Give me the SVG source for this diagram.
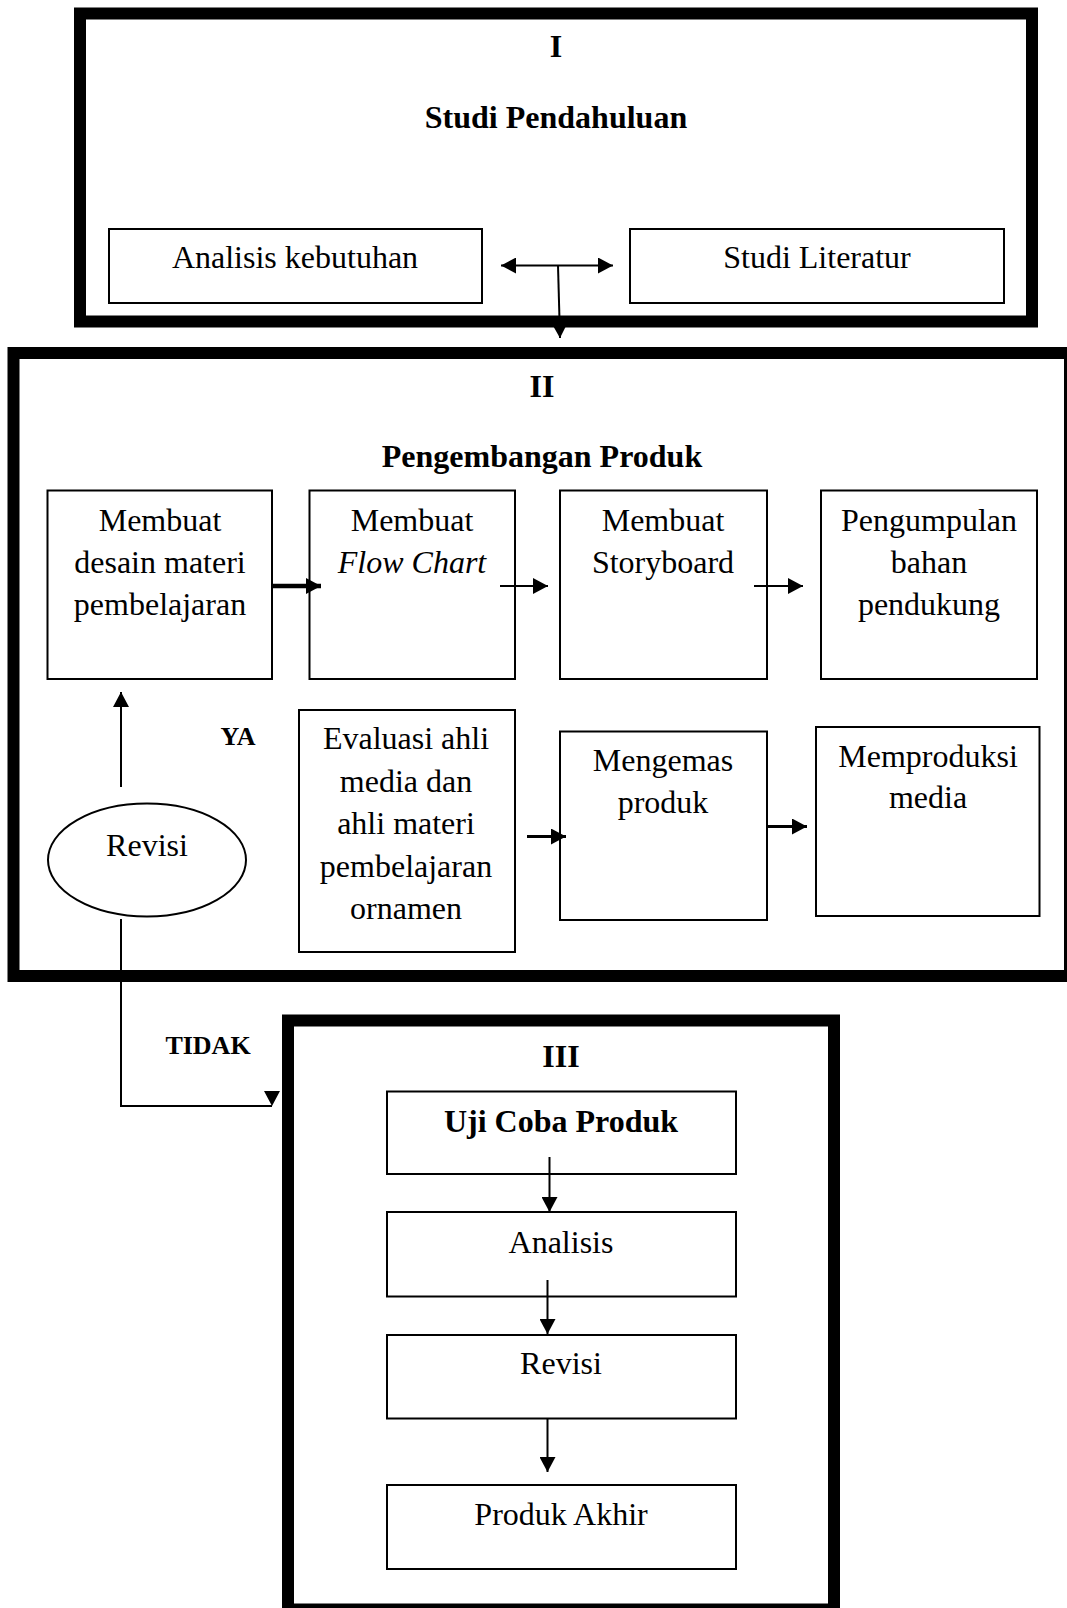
<svg xmlns="http://www.w3.org/2000/svg" width="1067" height="1608" viewBox="0 0 1067 1608">
<style>
text{font-family:"Liberation Serif","Times New Roman",serif;font-size:32px;fill:#000;text-anchor:middle}
.b{font-weight:bold}
.s{font-size:26px;font-weight:bold}
.i{font-style:italic}
.frame{fill:none;stroke:#000;stroke-width:12}
.box{fill:#fff;stroke:#000;stroke-width:2}
.ln{fill:none;stroke:#000;stroke-width:2}
.mid{fill:none;stroke:#000;stroke-width:3}
.thick{fill:none;stroke:#000;stroke-width:4.5}
</style>
<defs>
<marker id="ah" viewBox="0 0 15 16" refX="15" refY="8" markerWidth="15" markerHeight="16" orient="auto-start-reverse" markerUnits="userSpaceOnUse"><path d="M0,0 L15,8 L0,16 z" fill="#000"/></marker>
<marker id="ahDown" viewBox="0 0 15 16" refX="15" refY="8" markerWidth="15" markerHeight="16" orient="90" markerUnits="userSpaceOnUse"><path d="M0,0 L15,8 L0,16 z" fill="#000"/></marker>
</defs>

<g id="frame-I">
<rect class="frame" x="80" y="13.5" width="952" height="308"/>
<text class="b" x="556" y="57">I</text>
<text class="b" x="556" y="128">Studi Pendahuluan</text>
</g>
<g id="frame-II">
<rect class="frame" x="13.5" y="353" width="1056.5" height="623"/>
<text class="b" x="542" y="397">II</text>
<text class="b" x="542" y="467">Pengembangan Produk</text>
</g>
<g id="frame-III">
<rect class="frame" x="288" y="1020.5" width="546" height="589"/>
<text class="b" x="561" y="1067">III</text>
</g>

<g id="analisis-kebutuhan"><rect class="box" x="109" y="229" width="373" height="74"/><text x="295" y="268">Analisis kebutuhan</text></g>
<g id="studi-literatur"><rect class="box" x="630" y="229" width="374" height="74"/><text x="817" y="268">Studi Literatur</text></g>

<g id="desain-materi"><rect class="box" x="47.5" y="490.5" width="224.5" height="188.5"/>
<text x="160" y="531">Membuat</text><text x="160" y="573">desain materi</text><text x="160" y="615">pembelajaran</text></g>
<g id="flow-chart"><rect class="box" x="309.5" y="490.5" width="205.5" height="188.5"/>
<text x="412" y="531">Membuat</text><text class="i" x="412" y="573">Flow Chart</text></g>
<g id="storyboard"><rect class="box" x="560" y="490.5" width="207" height="188.5"/>
<text x="663" y="531">Membuat</text><text x="663" y="573">Storyboard</text></g>
<g id="pengumpulan"><rect class="box" x="821" y="490.5" width="216" height="188.5"/>
<text x="929" y="531">Pengumpulan</text><text x="929" y="573">bahan</text><text x="929" y="615">pendukung</text></g>

<g id="revisi-decision"><ellipse class="box" cx="147" cy="860" rx="99" ry="56.5"/><text x="147" y="856">Revisi</text></g>
<g id="evaluasi"><rect class="box" x="299" y="710" width="216" height="242"/>
<text x="406" y="749">Evaluasi ahli</text><text x="406" y="791.5">media dan</text><text x="406" y="834">ahli materi</text><text x="406" y="876.5">pembelajaran</text><text x="406" y="919">ornamen</text></g>
<g id="mengemas"><rect class="box" x="560" y="731.5" width="207" height="188.5"/>
<text x="663" y="771">Mengemas</text><text x="663" y="813">produk</text></g>
<g id="memproduksi"><rect class="box" x="816" y="727" width="223.5" height="189"/>
<text x="928" y="767">Memproduksi</text><text x="928" y="808">media</text></g>

<g id="uji-coba"><rect class="box" x="387" y="1091.5" width="349" height="82.5"/><text class="b" x="561" y="1132">Uji Coba Produk</text></g>
<g id="analisis"><rect class="box" x="387" y="1212" width="349" height="84.5"/><text x="561" y="1253">Analisis</text></g>
<g id="revisi"><rect class="box" x="387" y="1335" width="349" height="83.5"/><text x="561" y="1374">Revisi</text></g>
<g id="produk-akhir"><rect class="box" x="387" y="1485" width="349" height="84"/><text x="561" y="1525">Produk Akhir</text></g>

<g id="connectors">
<line class="ln" x1="501" y1="265.5" x2="613" y2="265.5" marker-start="url(#ah)" marker-end="url(#ah)"/>
<line class="ln" x1="558" y1="265.5" x2="560" y2="338" marker-end="url(#ah)"/>
<line class="thick" x1="272" y1="586" x2="321" y2="586" marker-end="url(#ah)"/>
<line class="ln" x1="500" y1="586" x2="548" y2="586" marker-end="url(#ah)"/>
<line class="ln" x1="754" y1="586" x2="803" y2="586" marker-end="url(#ah)"/>
<line class="ln" x1="121" y1="787" x2="121" y2="692" marker-end="url(#ah)"/>
<line class="mid" x1="527" y1="836.5" x2="566" y2="836.5" marker-end="url(#ah)"/>
<line class="mid" x1="767" y1="826.5" x2="807" y2="826.5" marker-end="url(#ah)"/>
<path class="ln" d="M121,919 V1106 H272" marker-end="url(#ahDown)"/>
<line class="ln" x1="549.5" y1="1157" x2="549.5" y2="1212" marker-end="url(#ah)"/>
<line class="ln" x1="547.5" y1="1280" x2="547.5" y2="1334" marker-end="url(#ah)"/>
<line class="ln" x1="547.5" y1="1419" x2="547.5" y2="1472" marker-end="url(#ah)"/>
<text class="s" x="238" y="745">YA</text>
<text class="s" x="208" y="1054">TIDAK</text>
</g>
</svg>
